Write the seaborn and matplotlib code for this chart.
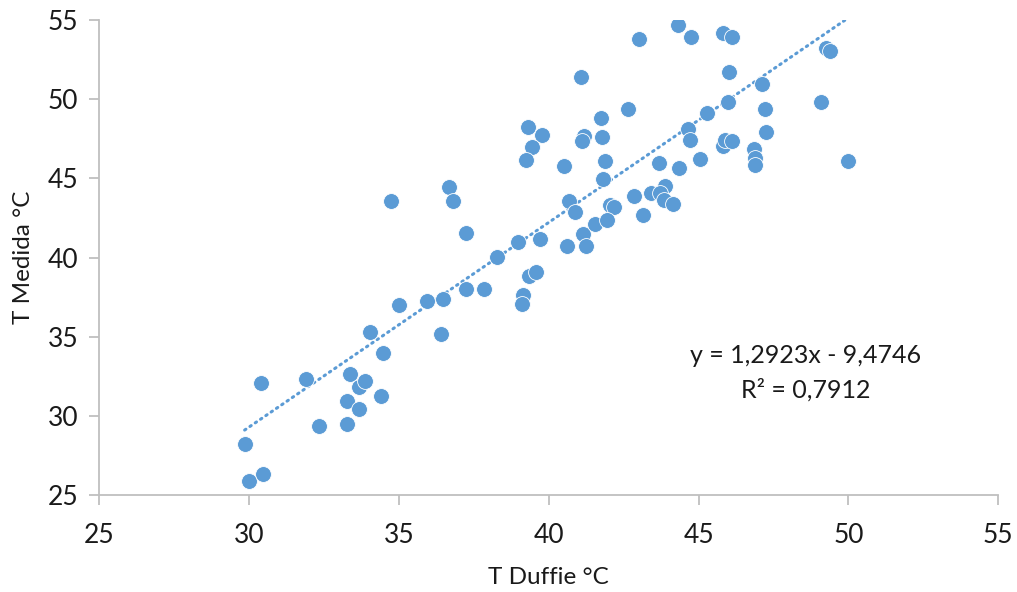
import numpy as np
import pandas as pd
import matplotlib
matplotlib.use("Agg")
import matplotlib.pyplot as plt
import seaborn as sns

# --- data ---
t_duffie = [29.85, 30.0, 30.45, 30.38, 31.9, 32.34, 33.25, 33.25, 33.35, 33.67,
            33.68, 33.86, 34.40, 34.03, 34.48, 35.0, 35.93, 36.48, 36.39, 37.25,
            37.85, 39.15, 39.11, 34.74, 36.66, 36.8, 37.25, 38.26, 38.97, 39.34,
            39.58, 39.30, 39.78, 39.45, 39.23, 39.7, 40.5, 40.6, 40.68, 40.87,
            41.06, 41.17, 41.1, 41.14, 41.24, 41.54, 41.73, 41.77, 41.87, 41.81,
            42.04, 42.18, 41.95, 42.63, 43.01, 42.85, 43.15, 43.4, 43.68, 43.88,
            43.71, 43.85, 44.15, 44.3, 44.35, 44.73, 45.82, 46.13, 46.02, 47.1,
            45.99, 45.29, 47.22, 49.25, 49.39, 49.09, 49.98, 44.64, 44.72, 45.81,
            45.88, 46.1, 47.26, 46.85, 46.88, 46.89, 45.05]
t_medida = [28.2, 25.86, 26.32, 32.05, 32.34, 29.37, 29.46, 30.93, 32.65, 30.43,
            31.84, 32.22, 31.27, 35.27, 33.94, 37.0, 37.27, 37.36, 35.15, 38.03,
            38.03, 37.63, 37.04, 43.57, 44.45, 43.57, 41.54, 40.05, 40.96, 38.85,
            39.1, 48.26, 47.74, 47.0, 46.16, 41.17, 45.8, 40.72, 43.57, 42.87,
            51.38, 47.69, 47.36, 41.46, 40.72, 42.13, 48.79, 47.59, 46.09, 44.98,
            43.29, 43.17, 42.37, 49.38, 53.78, 43.88, 42.68, 44.09, 45.95, 44.51,
            44.09, 43.63, 43.36, 54.68, 45.64, 53.95, 54.16, 53.95, 51.7, 50.96,
            49.84, 49.1, 49.38, 53.21, 53.02, 49.84, 46.09, 48.1, 47.42, 47.06,
            47.42, 47.36, 47.94, 46.83, 46.26, 45.84, 46.24]
slope = 1.2923
intercept = -9.4746
r2 = 0.7912
x_ticks = [25, 30, 35, 40, 45, 50, 55]
y_ticks = [25, 30, 35, 40, 45, 50, 55]

df = pd.DataFrame({"T Duffie": t_duffie, "T Medida": t_medida})
xfit = np.array([min(t_duffie), max(t_duffie)])
fit_df = pd.DataFrame({"x": xfit, "y": slope * xfit + intercept})

sns.set_theme(style="white")
plt.rcParams["font.family"] = ["Lato", "DejaVu Sans"]

blue = "#5B9BD5"
grey = "#BFBFBF"
txt = "#1a1a1a"

fig = plt.figure(figsize=(10.17, 5.92), dpi=100)
ax = fig.add_axes([99.3 / 1017, 1 - 495 / 592, (998.3 - 99.3) / 1017, (495 - 20) / 592])

sns.lineplot(data=fit_df, x="x", y="y", ax=ax, color=blue, linewidth=2.2,
             linestyle=(0, (0.5, 1.6)), dash_capstyle="round", zorder=1)
sns.scatterplot(data=df, x="T Duffie", y="T Medida", ax=ax, color=blue, s=130,
                edgecolor="white", linewidth=0.6, zorder=2)

ax.set_xlim(25, 55)
ax.set_ylim(25, 55)
ax.set_xticks(x_ticks)
ax.set_yticks(y_ticks)
ax.set_xticklabels([str(t) for t in x_ticks])
ax.set_yticklabels([str(t) for t in y_ticks])

for s in ["top", "right"]:
    ax.spines[s].set_visible(False)
for s in ["left", "bottom"]:
    ax.spines[s].set_color(grey)
    ax.spines[s].set_linewidth(1.3)
ax.tick_params(axis="both", which="major", direction="out", length=7, width=1.3,
               color=grey, labelsize=19, labelcolor=txt, bottom=True, left=True)
ax.tick_params(axis="x", pad=13)
ax.tick_params(axis="y", pad=8)

ax.set_xlabel("T Duffie °C", fontsize=17.5, color=txt, labelpad=14)
ax.set_ylabel("T Medida °C", fontsize=17.5, color=txt, labelpad=10)

ax.text(48.56, 33.84, f"y = {slope:.4f}x - {abs(intercept):.4f}".replace(".", ","),
        ha="center", va="center", fontsize=18, color=txt)
ax.text(48.56, 31.63, f"R² = {r2:.4f}".replace(".", ","),
        ha="center", va="center", fontsize=18, color=txt)

fig.savefig("out.png", dpi=100)
